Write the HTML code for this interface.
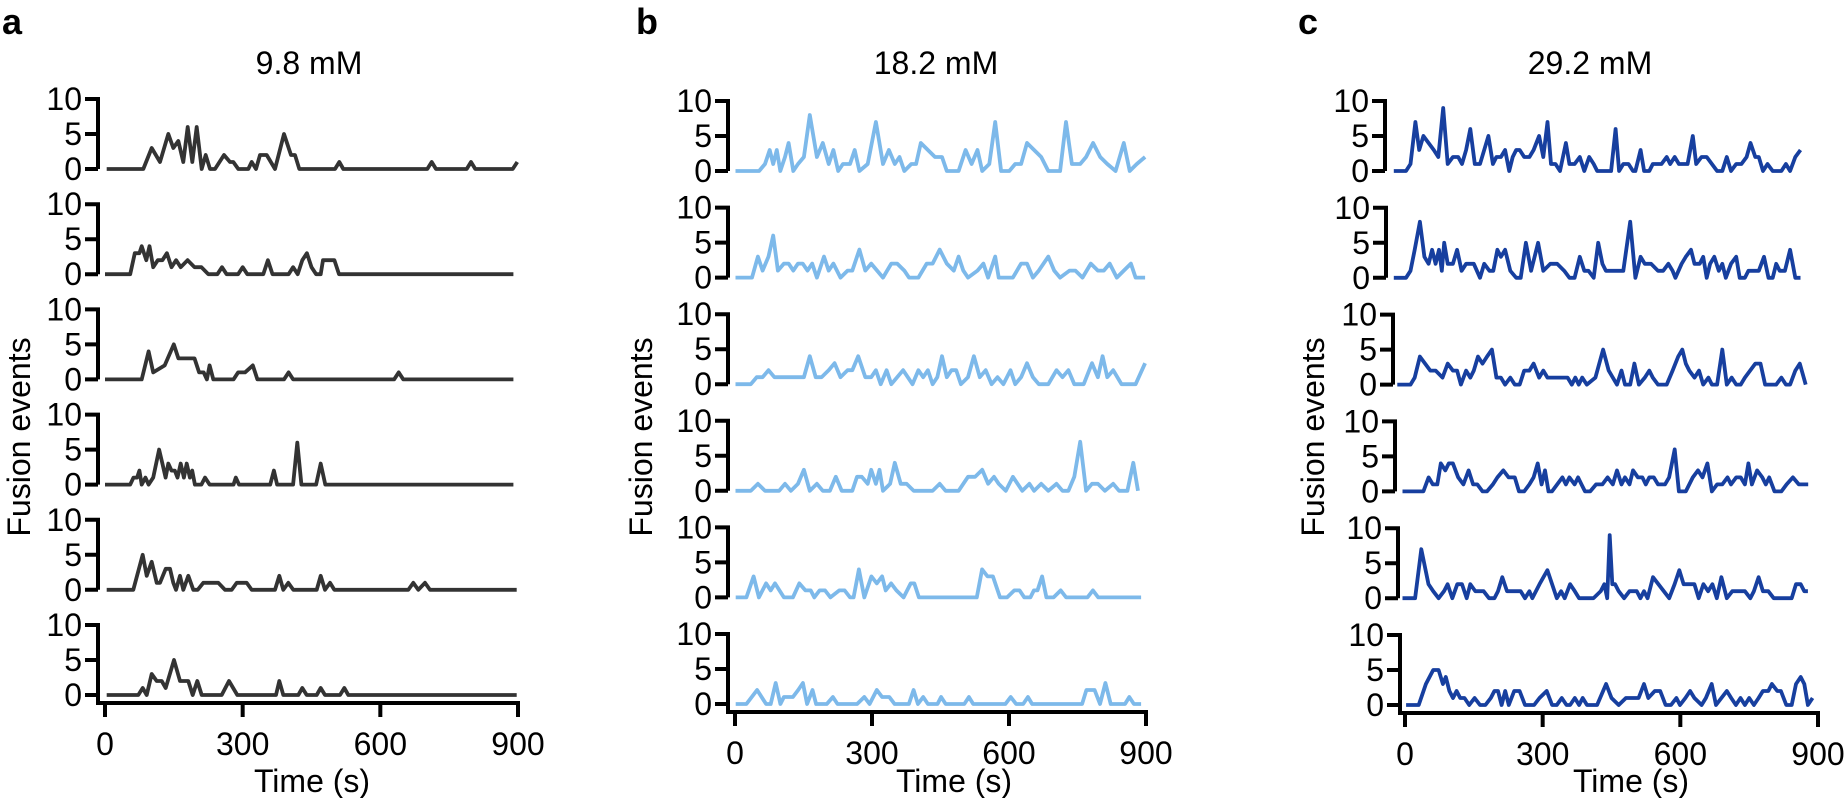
<!DOCTYPE html>
<html><head><meta charset="utf-8"><style>
html,body{margin:0;padding:0;background:#fff;}
svg{display:block;}
text{font-family:"Liberation Sans",Arial,sans-serif;fill:#000;}
</style></head><body>
<svg id="s" width="1845" height="798" viewBox="0 0 1845 798" xmlns="http://www.w3.org/2000/svg">
<text x="2" y="34" font-size="36" font-weight="bold">a</text>
<text x="636" y="34" font-size="36" font-weight="bold">b</text>
<text x="1298" y="34" font-size="36" font-weight="bold">c</text>
<text x="309" y="74" font-size="32" text-anchor="middle">9.8 mM</text>
<text x="936" y="74" font-size="32" text-anchor="middle">18.2 mM</text>
<text x="1590" y="74" font-size="32" text-anchor="middle">29.2 mM</text>
<text transform="translate(30,437) rotate(-90)" font-size="32" text-anchor="middle">Fusion events</text>
<text transform="translate(652,437) rotate(-90)" font-size="32" text-anchor="middle">Fusion events</text>
<text transform="translate(1324,437) rotate(-90)" font-size="32" text-anchor="middle">Fusion events</text>
<text x="312" y="792" font-size="32" text-anchor="middle">Time (s)</text>
<text x="954" y="792" font-size="32" text-anchor="middle">Time (s)</text>
<text x="1631" y="792" font-size="32" text-anchor="middle">Time (s)</text>
<g id="g"></g>
</svg>
<script>
var NS="http://www.w3.org/2000/svg",G=document.getElementById('g');
function el(t,a,txt){var e=document.createElementNS(NS,t);for(var k in a)e.setAttribute(k,a[k]);if(txt!==undefined)e.textContent=txt;G.appendChild(e);return e;}
function pairs(s){var a=s.trim().split(/[\s,]+/).map(Number),r=[];for(var i=0;i<a.length;i+=2)r.push([a[i],a[i+1]]);return r;}
var panels=[
 {ax:[98,98,98,98,98,98],x0:105,x9:518,top:169,sp:105.2,col:"#333333"},
 {ax:[728,728,728,728,728,728],x0:735,x9:1146,top:171,sp:106.6,col:"#7db9ea"},
 {ax:[1385,1386,1393,1395,1398,1400],x0:1405,x9:1818,top:171,sp:106.8,col:"#173f9f"}
];
var S=[
[0,0,'z1',"320 0 430 0 455 3 480 1 505 5 520 3 535 4 550 1 563 6 577 1 590 6 605 0 617 2 630 0 645 0 672 2 690 1 700 1 715 0 745 0 755 1 768 0 780 2 800 2 825 0 852 5 873 2 885 2 898 0 1005 0 1018 1 1030 0 1282 0 1295 1 1308 0 1400 0 1413 1 1426 0 1538 0 1552 1"],
[0,1,'t',"0 0 55 0 65 3 75 3 80 4 90 2 97 4 105 1 115 2 125 2 135 3 145 1 155 2 165 1 180 2 195 1 210 1 225 0 245 0 255 1 265 0 290 0 300 1 310 0 345 0 355 2 365 0 400 0 410 1 420 0 430 2 440 3 450 1 460 0 470 0 475 2 500 2 510 0 890 0"],
[0,2,'t',"0 0 80 0 95 4 105 1 130 2 150 5 160 3 180 3 195 3 205 1 215 1 222 0 228 2 236 0 280 0 290 1 305 1 322 2 332 0 390 0 400 1 410 0 630 0 640 1 650 0 890 0"],
[0,3,'t',"0 0 55 0 62 1 70 1 75 2 80 0 88 1 95 0 105 1 118 5 125 3 132 1 138 3 145 2 152 2 158 1 165 3 172 1 178 3 185 1 190 2 196 0 210 0 218 1 228 0 280 0 285 1 292 0 360 0 368 2 375 0 410 0 419 6 428 0 460 0 470 3 480 0 890 0"],
[0,4,'z1',"320 0 400 0 428 5 440 2 455 4 470 1 480 1 497 3 510 3 520 1 528 0 540 2 550 0 565 2 580 0 593 0 610 1 655 1 675 0 695 0 710 1 740 1 755 0 825 0 838 2 850 0 865 1 880 0 950 0 962 2 975 0 990 1 1003 0 1225 0 1240 1 1255 0 1275 1 1290 0 1550 0"],
[0,5,'z1',"320 0 415 0 428 1 440 0 455 3 470 2 485 2 497 1 522 5 540 2 565 2 578 0 592 2 605 0 665 0 687 2 712 0 828 0 838 2 850 0 895 0 907 1 920 0 950 0 962 1 975 0 1020 0 1033 1 1045 0 1550 0"],
[1,0,'v',"623 0 643 0 648 1 652 3 655 1 658 3 661 0 665 2 668 4 672 0 676 1 681 2 686 8 692 2 697 4 702 1 706 3 710 0 714 1 720 1 724 3 728 0 735 1 742 7 748 1 753 3 758 1 762 2 766 0 772 1 776 1 780 4 786 3 792 2 798 2 802 0 812 0 818 3 823 1 828 3 832 0 838 1 843 7 848 0 855 0 860 1 865 1 870 4 876 3 882 2 888 0 898 0 903 7 908 1 915 1 920 2 926 4 932 2 938 1 945 0 952 4 957 0 963 1 970 2"],
[1,1,'v',"623 0 637 0 642 3 646 1 651 3 655 6 659 1 664 2 668 2 672 1 676 2 680 2 684 1 688 2 692 0 698 3 702 1 706 2 712 0 718 1 722 1 728 4 733 1 738 2 743 1 748 0 755 2 760 2 766 1 770 0 778 0 785 2 790 2 796 4 802 2 808 1 812 3 816 1 820 0 828 1 833 2 837 0 843 3 846 0 858 0 865 2 870 2 875 0 880 1 888 3 893 1 898 0 906 1 911 1 917 0 924 2 930 1 935 1 940 2 946 0 952 1 958 2 962 0 970 0"],
[1,2,'v',"623 0 636 0 641 1 646 1 651 2 656 1 662 1 668 1 675 1 681 1 686 4 691 1 696 1 702 2 707 3 712 1 718 2 722 2 727 4 733 1 738 1 742 2 746 0 751 2 755 0 760 1 765 2 769 1 773 0 778 2 782 1 786 2 790 0 794 1 798 4 802 1 806 2 810 2 814 0 820 1 825 4 830 1 835 2 840 0 845 1 850 0 856 2 860 0 865 1 870 3 875 1 880 0 888 0 895 2 900 1 905 2 910 0 918 0 925 3 930 1 934 4 938 1 943 2 950 0 955 0 962 0 970 3"],
[1,3,'v',"623 0 636 0 642 1 648 0 660 0 665 1 670 0 676 1 681 3 686 0 692 1 697 0 703 0 708 2 713 0 722 0 726 2 730 2 735 1 738 3 742 1 745 3 748 0 754 1 758 4 763 1 768 1 774 0 790 0 796 1 801 0 812 0 820 2 826 2 832 3 837 1 842 2 846 1 852 0 858 2 862 1 866 0 872 1 876 0 882 1 888 0 895 1 900 0 905 0 910 2 915 7 920 0 925 1 930 1 936 0 943 1 948 0 955 0 960 4 964 0"],
[1,4,'z4',"380 0 410 0 430 3 445 0 465 2 478 1 490 2 515 0 540 0 558 2 575 1 590 1 600 0 615 1 630 1 645 0 670 1 685 1 700 0 710 0 725 4 740 0 760 3 775 2 790 3 800 1 815 2 830 1 850 0 870 2 880 2 893 0 1055 0 1070 4 1085 3 1100 3 1120 0 1140 0 1160 1 1175 1 1188 0 1205 0 1215 1 1225 1 1238 3 1250 0 1270 0 1290 1 1305 0 1365 0 1380 1 1395 0 1515 0"],
[1,5,'z4',"380 0 410 0 440 2 465 0 478 0 492 3 505 0 515 1 540 1 555 2 568 3 580 0 595 2 605 0 635 0 652 1 665 0 720 0 740 1 755 0 775 2 790 1 810 1 825 0 865 0 878 2 890 0 905 1 918 0 945 0 955 1 968 0 1020 0 1033 1 1045 0 1135 0 1150 1 1165 0 1185 0 1198 1 1210 0 1350 0 1362 2 1372 2 1385 2 1400 0 1415 3 1430 0 1470 0 1482 1 1495 0 1515 0"],
[2,0,'z3',"270 0 305 0 318 1 332 7 343 3 355 5 370 4 385 3 398 2 412 9 425 1 440 2 455 2 466 1 478 3 490 6 503 1 518 1 530 3 542 5 555 1 565 2 578 2 590 3 602 0 612 2 622 3 632 3 645 2 660 2 672 3 688 5 700 2 712 7 722 1 735 1 748 0 765 4 775 1 790 1 805 2 818 0 832 2 845 1 855 0 895 0 908 6 918 0 930 1 945 1 958 0 965 0 980 3 990 0 1005 0 1015 1 1040 1 1055 2 1065 1 1078 2 1090 1 1115 1 1130 5 1140 1 1155 2 1170 2 1185 1 1200 0 1215 0 1228 2 1240 0 1255 1 1270 1 1285 2 1296 4 1310 2 1320 2 1332 0 1345 1 1360 0 1385 0 1398 1 1410 0 1425 2 1440 3"],
[2,1,'z3',"270 0 305 0 318 1 330 4 345 8 358 3 370 2 380 4 390 2 400 4 408 1 415 5 425 2 440 2 452 4 465 1 478 2 500 2 518 0 530 2 545 1 556 1 568 4 578 3 590 4 605 1 622 0 635 0 650 5 665 1 685 5 700 1 720 2 740 2 760 1 775 0 790 0 805 3 818 1 830 1 845 0 858 5 870 2 880 1 930 1 950 8 965 0 980 3 992 2 1010 2 1030 1 1045 1 1060 2 1072 1 1080 0 1098 2 1110 3 1125 4 1135 2 1150 2 1160 3 1170 0 1180 2 1192 3 1205 1 1215 2 1225 0 1240 2 1255 3 1265 0 1280 0 1290 1 1305 1 1320 1 1335 3 1348 0 1360 0 1370 2 1380 1 1395 1 1410 4 1425 0 1440 0"],
[2,2,'z3',"280 0 318 0 330 1 345 4 360 3 375 2 390 2 410 1 425 3 440 2 452 2 463 0 478 2 490 1 500 2 512 4 525 3 538 4 552 5 565 1 578 1 590 0 605 1 618 0 632 0 645 2 660 2 672 3 688 1 700 2 712 1 770 1 782 0 792 1 802 0 812 1 825 0 850 1 872 5 888 2 900 1 912 0 925 2 935 0 950 0 962 3 975 0 992 1 1005 2 1015 1 1030 0 1055 0 1072 2 1088 4 1100 5 1110 3 1120 2 1135 1 1148 2 1160 0 1175 1 1185 0 1200 0 1215 5 1228 0 1242 1 1255 0 1268 0 1280 1 1295 2 1310 3 1325 3 1338 0 1350 0 1370 0 1385 1 1398 0 1410 0 1425 2 1438 3 1455 0"],
[2,3,'z3',"295 0 355 0 370 2 382 1 395 1 405 4 418 3 428 4 440 4 455 2 470 1 485 3 498 1 510 1 525 0 538 0 555 1 568 2 585 3 600 2 618 2 630 0 645 0 660 1 672 2 684 4 695 1 705 3 715 0 725 0 740 1 755 2 765 1 775 2 790 1 800 2 810 1 820 0 835 0 852 1 870 1 885 2 900 1 912 3 925 1 935 2 948 1 958 3 972 2 985 2 995 1 1005 2 1018 2 1030 1 1050 1 1062 2 1078 6 1090 0 1110 0 1130 2 1145 3 1158 2 1172 4 1185 0 1200 1 1215 1 1230 2 1240 1 1255 2 1268 2 1280 1 1290 4 1300 1 1315 3 1330 2 1340 1 1350 2 1365 0 1385 0 1400 1 1418 2 1435 1 1462 1"],
[2,4,'z5',"340 0 375 0 392 7 412 2 425 1 440 0 455 1 465 2 478 0 492 2 505 2 518 0 528 2 542 1 555 1 565 1 580 0 595 0 605 1 617 3 630 1 668 1 680 0 692 1 700 0 720 2 742 4 755 2 768 0 780 1 790 0 805 2 818 1 830 0 870 0 890 1 900 2 908 0 915 9 922 2 930 2 940 1 955 0 970 1 990 1 1000 0 1010 1 1020 0 1035 3 1050 2 1065 1 1080 0 1095 2 1108 4 1120 2 1135 2 1150 2 1162 0 1175 2 1188 1 1200 2 1212 0 1225 3 1240 0 1255 1 1290 1 1305 0 1315 1 1328 3 1340 1 1355 1 1370 0 1420 0 1432 2 1445 2 1455 1 1465 1"],
[2,5,'z5',"350 0 385 0 405 3 425 5 440 5 452 3 460 4 470 2 480 1 490 2 500 1 512 1 525 0 540 1 555 0 570 0 585 1 595 2 605 2 615 0 625 2 635 0 650 2 665 2 680 0 705 0 720 1 740 2 755 0 768 0 782 1 795 0 805 0 818 1 830 0 840 1 852 0 880 0 905 3 920 1 940 0 960 1 995 1 1010 3 1022 1 1040 2 1055 2 1070 0 1085 0 1100 1 1110 0 1125 1 1138 2 1150 1 1170 0 1182 1 1198 3 1210 0 1225 1 1240 2 1252 1 1265 0 1278 1 1290 0 1302 1 1315 0 1328 1 1340 2 1355 2 1365 3 1380 2 1390 2 1405 0 1420 0 1432 3 1445 4 1455 3 1465 0 1478 1"]
];
function X(p,mode,v){
 if(mode=='t')return p.x0+v*(p.x9-p.x0)/900;
 if(mode=='z1')return v/3;
 if(mode=='v')return v*1.1805;
 if(mode=='z4')return 600+v/2.8;
 if(mode=='z3')return 1300+v/2.877;
 if(mode=='z5')return 1280+v/2.775;
}
var H=70;
panels.forEach(function(p,pi){
 for(var r=0;r<6;r++){
  var b=p.top+r*p.sp, ax=p.ax[r];
  var bot=(r==5)?b+8:b;
  el('path',{d:'M'+(ax-13)+' '+(b-H)+'H'+ax+'V'+bot+'M'+(ax-13)+' '+(b-H/2)+'H'+ax+'M'+(ax-13)+' '+b+'H'+ax,stroke:'#000','stroke-width':4,fill:'none'});
  [[10,b-H],[5,b-H/2],[0,b]].forEach(function(t){el('text',{x:ax-16,y:t[1]+11,'font-size':32,'text-anchor':'end'},t[0]);});
  if(r==5){
   var xa=b+8;
   var d='M'+(ax-2)+' '+xa+'H'+(p.x9+2);
   for(var k=0;k<4;k++){var tx=p.x0+k*(p.x9-p.x0)/3;d+='M'+tx+' '+xa+'V'+(xa+14);
    el('text',{x:tx,y:xa+52,'font-size':32,'text-anchor':'middle'},k*300);}
   el('path',{d:d,stroke:'#000','stroke-width':4,fill:'none'});
  }
 }
});
S.forEach(function(s){
 var p=panels[s[0]],b=p.top+s[1]*p.sp;
 var pts=pairs(s[3]).map(function(q){return X(p,s[2],q[0]).toFixed(1)+','+(b-q[1]*H/10).toFixed(1);}).join(' ');
 el('polyline',{points:pts,fill:'none',stroke:p.col,'stroke-width':3.8,'stroke-linejoin':'round'});
});
</script>
</body></html>
